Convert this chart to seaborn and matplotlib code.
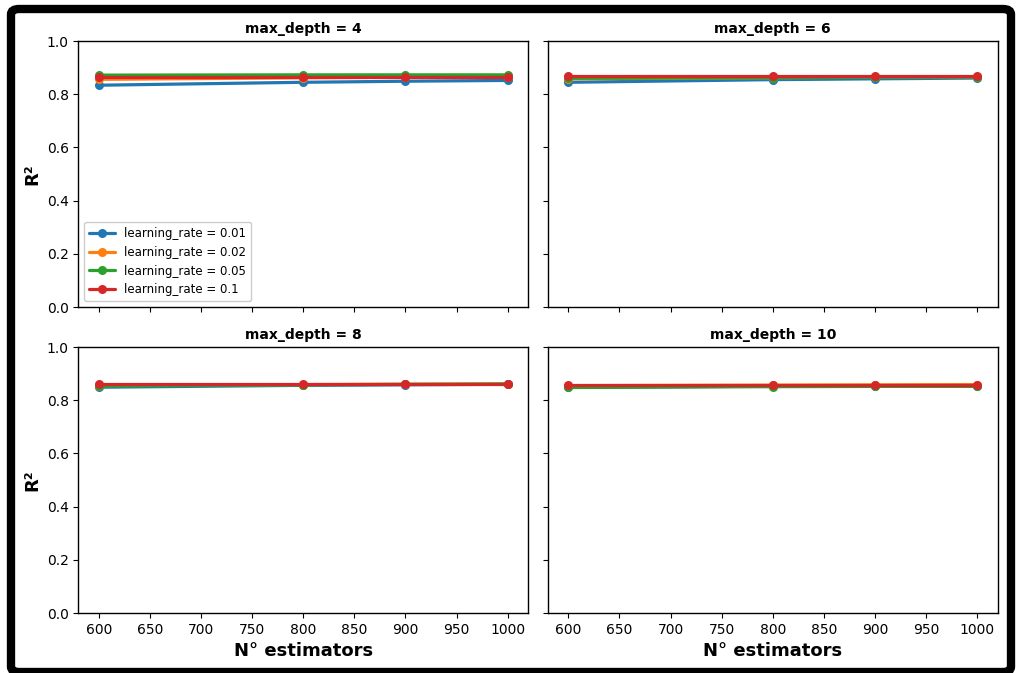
import numpy as np
import pandas as pd
import matplotlib
matplotlib.use("Agg")
import matplotlib.pyplot as plt
import seaborn as sns
from matplotlib.patches import FancyBboxPatch

# Grid search results (R² on validation)
n_estimators = [600, 800, 900, 1000]
learning_rates = [0.01, 0.02, 0.05, 0.1]
max_depths = [4, 6, 8, 10]

r2_depth_4 = {
    0.01: [0.834, 0.845, 0.849, 0.852],
    0.02: [0.856, 0.862, 0.864, 0.865],
    0.05: [0.872, 0.873, 0.873, 0.873],
    0.1:  [0.866, 0.866, 0.866, 0.866],
}
r2_depth_6 = {
    0.01: [0.845, 0.855, 0.858, 0.861],
    0.02: [0.858, 0.862, 0.864, 0.865],
    0.05: [0.860, 0.863, 0.864, 0.865],
    0.1:  [0.867, 0.867, 0.867, 0.867],
}
r2_depth_8 = {
    0.01: [0.849, 0.856, 0.858, 0.860],
    0.02: [0.855, 0.859, 0.860, 0.861],
    0.05: [0.853, 0.858, 0.860, 0.861],
    0.1:  [0.862, 0.862, 0.862, 0.862],
}
r2_depth_10 = {
    0.01: [0.848, 0.853, 0.854, 0.855],
    0.02: [0.855, 0.857, 0.858, 0.859],
    0.05: [0.848, 0.851, 0.852, 0.852],
    0.1:  [0.856, 0.856, 0.856, 0.856],
}
results = {4: r2_depth_4, 6: r2_depth_6, 8: r2_depth_8, 10: r2_depth_10}

rows = []
for d in max_depths:
    for lr in learning_rates:
        for n, r2 in zip(n_estimators, results[d][lr]):
            rows.append({"max_depth": d, "learning_rate": f"learning_rate = {lr}",
                         "n_estimators": n, "r2": r2})
df = pd.DataFrame(rows)

sns.set_style("ticks")
plt.rcParams["font.family"] = ["DejaVu Sans"]
plt.rcParams.update({"text.color": "black", "axes.labelcolor": "black",
                     "xtick.color": "black", "ytick.color": "black",
                     "axes.edgecolor": "black"})

fig, axes = plt.subplots(2, 2, figsize=(10.18, 6.73), dpi=100, sharex=True, sharey=True)
fig.subplots_adjust(left=0.077, right=0.980, top=0.939, bottom=0.089,
                    wspace=0.044, hspace=0.15)

palette = ["#1f77b4", "#ff7f0e", "#2ca02c", "#d62728"]
for ax, d in zip(axes.flat, max_depths):
    sub = df[df["max_depth"] == d]
    sns.lineplot(data=sub, x="n_estimators", y="r2", hue="learning_rate",
                 palette=palette, marker="o", markersize=6.5, markeredgewidth=0,
                 linewidth=2.3, ax=ax, legend=(d == 4))
    ax.set_title(f"max_depth = {d}", fontweight="bold", fontsize=10)
    ax.set_ylim(0, 1.0)
    ax.set_xlim(580, 1020)
    ax.set_xticks(np.arange(600, 1001, 50))
    ax.set_ylabel("")
    ax.set_xlabel("")
    for s in ax.spines.values():
        s.set_visible(True)
        s.set_linewidth(1.0)

axes[0, 0].legend(loc="lower left", fontsize=8.5, title=None, framealpha=1,
                  handlelength=2.2)
for ax in axes[:, 0]:
    ax.set_ylabel("R²", fontweight="bold", fontsize=13)
for ax in axes[1, :]:
    ax.set_xlabel("N° estimators", fontweight="bold", fontsize=13)
for ax in axes[0, :]:
    ax.tick_params(labelbottom=False)

# black frame around the figure
frame = FancyBboxPatch((11 / 1018, 1 / 673), 1000 / 1018, 663 / 673,
                       boxstyle="round,pad=0,rounding_size=0.008",
                       transform=fig.transFigure, fill=False,
                       edgecolor="black", linewidth=6, clip_on=False)
fig.patches.append(frame)

fig.savefig("out.png", dpi=100)
